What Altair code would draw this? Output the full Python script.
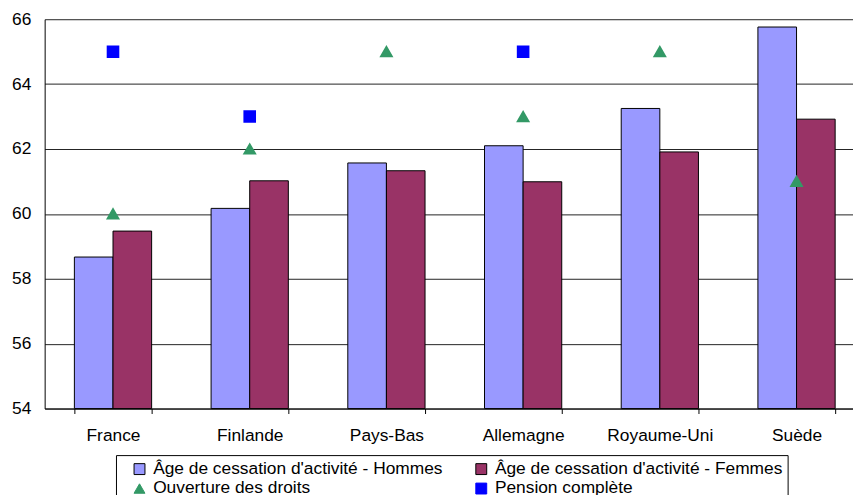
import altair as alt
import pandas as pd

countries = ["France", "Finlande", "Pays-Bas", "Allemagne", "Royaume-Uni", "Suède"]
hommes = [58.67, 60.17, 61.57, 62.10, 63.25, 65.76]
femmes = [59.47, 61.02, 61.33, 60.99, 61.91, 62.92]
ouverture = [60, 62, 65, 63, 65, 61]
pension = [65, 63, None, 65, None, None]

s_h = "Âge de cessation d'activité - Hommes"
s_f = "Âge de cessation d'activité - Femmes"
s_o = "Ouverture des droits"
s_p = "Pension complète"
# legend order (column-major in a 2-column legend)
series = [s_h, s_o, s_f, s_p]
fills = ["#9999FF", "#339966", "#993366", "#0000FF"]
strokes = ["black", "#339966", "black", "#0000FF"]
shapes = ["square", "triangle-up", "square", "square"]
y_ticks = [54, 56, 58, 60, 62, 64, 66]
y_min = 54
y_max = 66

bar_rows = []
for c, h, f in zip(countries, hommes, femmes):
    bar_rows.append({"pays": c, "serie": s_h, "valeur": h})
    bar_rows.append({"pays": c, "serie": s_f, "valeur": f})
bars_df = pd.DataFrame(bar_rows)

pt_rows = []
for c, o, p in zip(countries, ouverture, pension):
    if o is not None:
        pt_rows.append({"pays": c, "serie": s_o, "valeur": o})
    if p is not None:
        pt_rows.append({"pays": c, "serie": s_p, "valeur": p})
pts_df = pd.DataFrame(pt_rows)

FS = 17.5

legend = alt.Legend(
    title="\u00a0", titleOrient="left", titlePadding=10, titleFontSize=FS,
    orient="none", legendX=72, legendY=440, columns=2, columnPadding=30,
    rowPadding=1, padding=5, labelFontSize=FS, labelColor="black",
    labelLimit=400, labelOffset=5, symbolSize=121, symbolStrokeWidth=1,
    strokeColor="black",
)

x_enc = alt.X(
    "pays:N",
    scale=alt.Scale(domain=countries, range=[0, 828], paddingInner=0.435, paddingOuter=0.2175),
    axis=alt.Axis(title=None, labelAngle=0, labelFontSize=FS, labelColor="black",
                  labelPadding=13, tickBand="extent", tickSize=5, tickColor="black",
                  domainColor="black", grid=False),
)
y_enc = alt.Y(
    "valeur:Q",
    scale=alt.Scale(domain=[y_min, y_max], zero=False, nice=False),
    axis=alt.Axis(title=None, values=y_ticks, labelFontSize=FS, labelColor="black",
                  tickSize=0, labelPadding=14, gridColor="#222", domainColor="black"),
)
color_enc = alt.Color("serie:N", scale=alt.Scale(domain=series, range=fills), legend=legend)
stroke_enc = alt.Stroke("serie:N", scale=alt.Scale(domain=series, range=strokes), legend=legend)
shape_enc = alt.Shape("serie:N", scale=alt.Scale(domain=series, range=shapes), legend=legend)

bars = alt.Chart(bars_df).mark_bar(strokeWidth=1).encode(
    x=x_enc,
    xOffset=alt.XOffset("serie:N", sort=[s_h, s_f], scale=alt.Scale(paddingInner=0, paddingOuter=0)),
    y=y_enc,
    y2=alt.datum(y_min),
    color=color_enc,
    stroke=stroke_enc,
)

points = alt.Chart(pts_df).mark_point(filled=True, size=115, opacity=1).encode(
    x=x_enc,
    y=y_enc,
    color=color_enc,
    stroke=stroke_enc,
    shape=shape_enc,
)

chart = alt.layer(bars, points).properties(
    width=816, height=393,
    autosize=alt.AutoSizeParams(type="none"),
    padding={"left": 37, "top": 9, "right": 0, "bottom": 93},
).configure(font="Liberation Sans").configure_view(strokeWidth=0)

chart.save("out.html", embed_options={"renderer": "svg", "actions": False})
